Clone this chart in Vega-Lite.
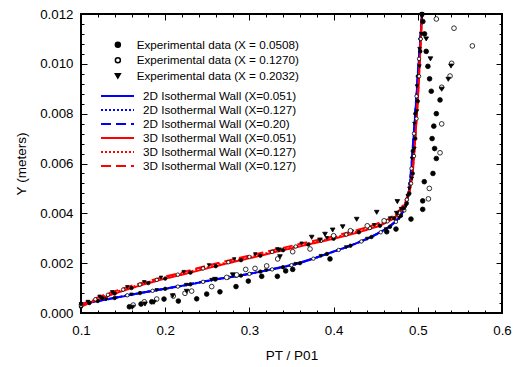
{
  "$schema": "https://vega.github.io/schema/vega-lite/v6.json",
  "width": 421,
  "height": 299,
  "autosize": {"type": "none"},
  "padding": {"left": 81, "top": 14, "right": 13, "bottom": 54},
  "config": {
    "font": "Liberation Sans",
    "view": {"stroke": "black", "strokeWidth": 2},
    "axis": {"grid": false, "domain": false, "ticks": true, "tickColor": "black", "tickWidth": 1, "labelColor": "black", "titleColor": "black", "labelFontSize": 13.3, "titleFontSize": 13.5, "titleFontWeight": "normal", "labelFont": "Liberation Sans", "titleFont": "Liberation Sans", "labelFlush": false, "labelOverlap": false},
    "legend": {"labelFont": "Liberation Sans", "labelFontSize": 11.7, "labelColor": "black", "labelLimit": 300}
  },
  "datasets": {
    "lines": [
      {"series": "b1", "x": 0.100, "y": 0.00035},
      {"series": "b1", "x": 0.120, "y": 0.00048},
      {"series": "b1", "x": 0.140, "y": 0.00060},
      {"series": "b1", "x": 0.170, "y": 0.00080},
      {"series": "b1", "x": 0.200, "y": 0.00097},
      {"series": "b1", "x": 0.230, "y": 0.00115},
      {"series": "b1", "x": 0.260, "y": 0.00135},
      {"series": "b1", "x": 0.290, "y": 0.00150},
      {"series": "b1", "x": 0.313, "y": 0.00166},
      {"series": "b1", "x": 0.340, "y": 0.00184},
      {"series": "b1", "x": 0.360, "y": 0.00200},
      {"series": "b1", "x": 0.392, "y": 0.00237},
      {"series": "b1", "x": 0.420, "y": 0.00270},
      {"series": "b1", "x": 0.445, "y": 0.00305},
      {"series": "b1", "x": 0.467, "y": 0.00346},
      {"series": "b1", "x": 0.480, "y": 0.00390},
      {"series": "b1", "x": 0.487, "y": 0.00440},
      {"series": "b1", "x": 0.491, "y": 0.00520},
      {"series": "b1", "x": 0.494, "y": 0.00650},
      {"series": "b1", "x": 0.497, "y": 0.00800},
      {"series": "b1", "x": 0.500, "y": 0.00950},
      {"series": "b1", "x": 0.503, "y": 0.01100},
      {"series": "b1", "x": 0.505, "y": 0.01200},
      {"series": "b2", "x": 0.100, "y": 0.00035},
      {"series": "b2", "x": 0.110, "y": 0.00042},
      {"series": "b2", "x": 0.155, "y": 0.00071},
      {"series": "b2", "x": 0.185, "y": 0.00089},
      {"series": "b2", "x": 0.215, "y": 0.00106},
      {"series": "b2", "x": 0.245, "y": 0.00125},
      {"series": "b2", "x": 0.275, "y": 0.00143},
      {"series": "b2", "x": 0.300, "y": 0.00157},
      {"series": "b2", "x": 0.327, "y": 0.00175},
      {"series": "b2", "x": 0.350, "y": 0.00192},
      {"series": "b2", "x": 0.376, "y": 0.00218},
      {"series": "b2", "x": 0.406, "y": 0.00253},
      {"series": "b2", "x": 0.433, "y": 0.00287},
      {"series": "b2", "x": 0.456, "y": 0.00324},
      {"series": "b2", "x": 0.474, "y": 0.00366},
      {"series": "b2", "x": 0.484, "y": 0.00412},
      {"series": "b2", "x": 0.489, "y": 0.00475},
      {"series": "b2", "x": 0.4925, "y": 0.00580},
      {"series": "b2", "x": 0.4955, "y": 0.00720},
      {"series": "b2", "x": 0.4985, "y": 0.00870},
      {"series": "b2", "x": 0.5015, "y": 0.01020},
      {"series": "b2", "x": 0.505, "y": 0.01200},
      {"series": "b3", "x": 0.100, "y": 0.00036},
      {"series": "b3", "x": 0.130, "y": 0.00055},
      {"series": "b3", "x": 0.160, "y": 0.00074},
      {"series": "b3", "x": 0.190, "y": 0.00092},
      {"series": "b3", "x": 0.225, "y": 0.00113},
      {"series": "b3", "x": 0.255, "y": 0.00133},
      {"series": "b3", "x": 0.285, "y": 0.00148},
      {"series": "b3", "x": 0.320, "y": 0.00171},
      {"series": "b3", "x": 0.355, "y": 0.00197},
      {"series": "b3", "x": 0.385, "y": 0.00229},
      {"series": "b3", "x": 0.415, "y": 0.00264},
      {"series": "b3", "x": 0.440, "y": 0.00298},
      {"series": "b3", "x": 0.462, "y": 0.00336},
      {"series": "b3", "x": 0.478, "y": 0.00381},
      {"series": "b3", "x": 0.486, "y": 0.00430},
      {"series": "b3", "x": 0.490, "y": 0.00500},
      {"series": "b3", "x": 0.493, "y": 0.00620},
      {"series": "b3", "x": 0.496, "y": 0.00760},
      {"series": "b3", "x": 0.499, "y": 0.00910},
      {"series": "b3", "x": 0.502, "y": 0.01060},
      {"series": "b3", "x": 0.505, "y": 0.01200},
      {"series": "r1", "x": 0.100, "y": 0.00025},
      {"series": "r1", "x": 0.110, "y": 0.00040},
      {"series": "r1", "x": 0.125, "y": 0.00060},
      {"series": "r1", "x": 0.140, "y": 0.00078},
      {"series": "r1", "x": 0.160, "y": 0.00100},
      {"series": "r1", "x": 0.180, "y": 0.00120},
      {"series": "r1", "x": 0.200, "y": 0.00138},
      {"series": "r1", "x": 0.230, "y": 0.00162},
      {"series": "r1", "x": 0.260, "y": 0.00188},
      {"series": "r1", "x": 0.290, "y": 0.00212},
      {"series": "r1", "x": 0.313, "y": 0.00230},
      {"series": "r1", "x": 0.340, "y": 0.00252},
      {"series": "r1", "x": 0.370, "y": 0.00275},
      {"series": "r1", "x": 0.400, "y": 0.00298},
      {"series": "r1", "x": 0.430, "y": 0.00324},
      {"series": "r1", "x": 0.455, "y": 0.00350},
      {"series": "r1", "x": 0.472, "y": 0.00380},
      {"series": "r1", "x": 0.483, "y": 0.00420},
      {"series": "r1", "x": 0.490, "y": 0.00480},
      {"series": "r1", "x": 0.494, "y": 0.00560},
      {"series": "r1", "x": 0.497, "y": 0.00700},
      {"series": "r1", "x": 0.500, "y": 0.00850},
      {"series": "r1", "x": 0.503, "y": 0.01050},
      {"series": "r1", "x": 0.505, "y": 0.01200},
      {"series": "r2", "x": 0.100, "y": 0.00029},
      {"series": "r2", "x": 0.117, "y": 0.00055},
      {"series": "r2", "x": 0.132, "y": 0.00073},
      {"series": "r2", "x": 0.150, "y": 0.00094},
      {"series": "r2", "x": 0.170, "y": 0.00114},
      {"series": "r2", "x": 0.190, "y": 0.00133},
      {"series": "r2", "x": 0.215, "y": 0.00154},
      {"series": "r2", "x": 0.245, "y": 0.00179},
      {"series": "r2", "x": 0.275, "y": 0.00204},
      {"series": "r2", "x": 0.300, "y": 0.00225},
      {"series": "r2", "x": 0.327, "y": 0.00245},
      {"series": "r2", "x": 0.355, "y": 0.00267},
      {"series": "r2", "x": 0.385, "y": 0.00290},
      {"series": "r2", "x": 0.415, "y": 0.00315},
      {"series": "r2", "x": 0.443, "y": 0.00341},
      {"series": "r2", "x": 0.464, "y": 0.00368},
      {"series": "r2", "x": 0.478, "y": 0.00403},
      {"series": "r2", "x": 0.487, "y": 0.00455},
      {"series": "r2", "x": 0.492, "y": 0.00520},
      {"series": "r2", "x": 0.4955, "y": 0.00630},
      {"series": "r2", "x": 0.4985, "y": 0.00780},
      {"series": "r2", "x": 0.5015, "y": 0.00950},
      {"series": "r2", "x": 0.5035, "y": 0.01100},
      {"series": "r2", "x": 0.505, "y": 0.01200},
      {"series": "r3", "x": 0.100, "y": 0.00033},
      {"series": "r3", "x": 0.108, "y": 0.00045},
      {"series": "r3", "x": 0.122, "y": 0.00066},
      {"series": "r3", "x": 0.137, "y": 0.00084},
      {"series": "r3", "x": 0.155, "y": 0.00104},
      {"series": "r3", "x": 0.175, "y": 0.00124},
      {"series": "r3", "x": 0.195, "y": 0.00142},
      {"series": "r3", "x": 0.222, "y": 0.00165},
      {"series": "r3", "x": 0.252, "y": 0.00192},
      {"series": "r3", "x": 0.282, "y": 0.00216},
      {"series": "r3", "x": 0.307, "y": 0.00236},
      {"series": "r3", "x": 0.333, "y": 0.00256},
      {"series": "r3", "x": 0.362, "y": 0.00279},
      {"series": "r3", "x": 0.392, "y": 0.00301},
      {"series": "r3", "x": 0.422, "y": 0.00327},
      {"series": "r3", "x": 0.448, "y": 0.00353},
      {"series": "r3", "x": 0.467, "y": 0.00380},
      {"series": "r3", "x": 0.480, "y": 0.00418},
      {"series": "r3", "x": 0.488, "y": 0.00470},
      {"series": "r3", "x": 0.493, "y": 0.00540},
      {"series": "r3", "x": 0.496, "y": 0.00660},
      {"series": "r3", "x": 0.499, "y": 0.00810},
      {"series": "r3", "x": 0.502, "y": 0.00990},
      {"series": "r3", "x": 0.504, "y": 0.01120},
      {"series": "r3", "x": 0.505, "y": 0.01200}
    ],
    "exp": [
      {"series": "e1", "x": 0.1574, "y": 0.00025},
      {"series": "e1", "x": 0.1713, "y": 0.00036},
      {"series": "e1", "x": 0.184, "y": 0.00045},
      {"series": "e1", "x": 0.1986, "y": 0.00056},
      {"series": "e1", "x": 0.2156, "y": 0.00048},
      {"series": "e1", "x": 0.2374, "y": 0.00057},
      {"series": "e1", "x": 0.2493, "y": 0.00076},
      {"series": "e1", "x": 0.265, "y": 0.00085},
      {"series": "e1", "x": 0.2841, "y": 0.00106},
      {"series": "e1", "x": 0.2987, "y": 0.00128},
      {"series": "e1", "x": 0.3146, "y": 0.00147},
      {"series": "e1", "x": 0.3332, "y": 0.00147},
      {"series": "e1", "x": 0.3431, "y": 0.00169},
      {"series": "e1", "x": 0.3514, "y": 0.00175},
      {"series": "e1", "x": 0.3957, "y": 0.00217},
      {"series": "e1", "x": 0.4631, "y": 0.00326},
      {"series": "e1", "x": 0.4741, "y": 0.00337},
      {"series": "e1", "x": 0.4919, "y": 0.00377},
      {"series": "e1", "x": 0.5058, "y": 0.00416},
      {"series": "e1", "x": 0.5058, "y": 0.0045},
      {"series": "e1", "x": 0.5077, "y": 0.00527},
      {"series": "e1", "x": 0.518, "y": 0.0056},
      {"series": "e1", "x": 0.522, "y": 0.0062},
      {"series": "e1", "x": 0.520, "y": 0.0066},
      {"series": "e1", "x": 0.517, "y": 0.0070},
      {"series": "e1", "x": 0.519, "y": 0.0075},
      {"series": "e1", "x": 0.522, "y": 0.0080},
      {"series": "e1", "x": 0.5264, "y": 0.00855},
      {"series": "e1", "x": 0.516, "y": 0.0089},
      {"series": "e1", "x": 0.514, "y": 0.0094},
      {"series": "e1", "x": 0.512, "y": 0.0099},
      {"series": "e1", "x": 0.510, "y": 0.0105},
      {"series": "e1", "x": 0.508, "y": 0.0112},
      {"series": "e1", "x": 0.506, "y": 0.0117},
      {"series": "e2", "x": 0.162, "y": 0.00032},
      {"series": "e2", "x": 0.1752, "y": 0.00045},
      {"series": "e2", "x": 0.1899, "y": 0.00056},
      {"series": "e2", "x": 0.2096, "y": 0.00068},
      {"series": "e2", "x": 0.2235, "y": 0.00079},
      {"series": "e2", "x": 0.2314, "y": 0.00088},
      {"series": "e2", "x": 0.2552, "y": 0.00106},
      {"series": "e2", "x": 0.273, "y": 0.00143},
      {"series": "e2", "x": 0.2849, "y": 0.00153},
      {"series": "e2", "x": 0.2956, "y": 0.00175},
      {"series": "e2", "x": 0.3067, "y": 0.00179},
      {"series": "e2", "x": 0.3205, "y": 0.00189},
      {"series": "e2", "x": 0.3336, "y": 0.00217},
      {"series": "e2", "x": 0.3514, "y": 0.00246},
      {"series": "e2", "x": 0.372, "y": 0.00257},
      {"series": "e2", "x": 0.400, "y": 0.0031},
      {"series": "e2", "x": 0.420, "y": 0.0033},
      {"series": "e2", "x": 0.440, "y": 0.0035},
      {"series": "e2", "x": 0.460, "y": 0.0037},
      {"series": "e2", "x": 0.5126, "y": 0.00458},
      {"series": "e2", "x": 0.5137, "y": 0.0050},
      {"series": "e2", "x": 0.5264, "y": 0.00643},
      {"series": "e2", "x": 0.5284, "y": 0.00759},
      {"series": "e2", "x": 0.5284, "y": 0.00906},
      {"series": "e2", "x": 0.5383, "y": 0.00951},
      {"series": "e2", "x": 0.5402, "y": 0.01002},
      {"series": "e2", "x": 0.5648, "y": 0.01072},
      {"series": "e2", "x": 0.543, "y": 0.01143},
      {"series": "e2", "x": 0.522, "y": 0.0118},
      {"series": "e3", "x": 0.1609, "y": 0.00023},
      {"series": "e3", "x": 0.176, "y": 0.00036},
      {"series": "e3", "x": 0.1867, "y": 0.00043},
      {"series": "e3", "x": 0.2089, "y": 0.00069},
      {"series": "e3", "x": 0.2255, "y": 0.00087},
      {"series": "e3", "x": 0.2591, "y": 0.00135},
      {"series": "e3", "x": 0.2802, "y": 0.00153},
      {"series": "e3", "x": 0.3352, "y": 0.00253},
      {"series": "e3", "x": 0.3363, "y": 0.00226},
      {"series": "e3", "x": 0.374, "y": 0.00304},
      {"series": "e3", "x": 0.3838, "y": 0.00293},
      {"series": "e3", "x": 0.3898, "y": 0.00316},
      {"series": "e3", "x": 0.3989, "y": 0.00333},
      {"series": "e3", "x": 0.4108, "y": 0.00346},
      {"series": "e3", "x": 0.4274, "y": 0.00376},
      {"series": "e3", "x": 0.4512, "y": 0.00404},
      {"series": "e3", "x": 0.4757, "y": 0.00447},
      {"series": "e3", "x": 0.475, "y": 0.0040},
      {"series": "e3", "x": 0.5284, "y": 0.00898},
      {"series": "e3", "x": 0.5362, "y": 0.00938},
      {"series": "e3", "x": 0.5394, "y": 0.00991},
      {"series": "e3", "x": 0.515, "y": 0.0102},
      {"series": "e3", "x": 0.510, "y": 0.0110},
      {"series": "e3", "x": 0.505, "y": 0.0119}
    ]
  },
  "resolve": {"axis": {"x": "independent", "y": "independent"}},
  "layer": [
    {
      "data": {"name": "lines"},
      "transform": [{"filter": {"field": "series", "oneOf": ["b1", "b2", "b3"]}}],
      "mark": {"type": "line", "strokeWidth": 2},
      "encoding": {
        "x": {"field": "x", "type": "quantitative", "scale": {"domain": [0.1, 0.6], "nice": false, "zero": false},
          "axis": {"orient": "bottom", "title": "PT / P01", "values": [0.1, 0.2, 0.3, 0.4, 0.5, 0.6], "format": ".1f", "offset": -6, "tickSize": 6, "labelPadding": 10, "titlePadding": 12}},
        "y": {"field": "y", "type": "quantitative", "scale": {"domain": [0, 0.012], "nice": false},
          "axis": {"orient": "left", "title": "Y (meters)", "values": [0, 0.002, 0.004, 0.006, 0.008, 0.01, 0.012], "format": ".3f", "offset": -6, "tickSize": 6, "labelPadding": 8, "titlePadding": 11}},
        "color": {"field": "series", "type": "nominal",
          "scale": {"domain": ["b1","b2","b3","r1","r2","r3"], "range": ["#0000ff","#0000ff","#0000ff","#ff0000","#ff0000","#ff0000"]},
          "legend": {"title": null, "orient": "none", "legendX": 30, "legendY": 75.5, "symbolType": "M-3,0H3", "symbolSize": 121, "symbolStrokeWidth": 2, "labelOffset": 19, "rowPadding": 0,
            "labelExpr": "datum.value=='b1' ? '2D Isothermal Wall (X=0.051)' : datum.value=='b2' ? '2D Isothermal Wall (X=0.127)' : datum.value=='b3' ? '2D Isothermal Wall (X=0.20)' : datum.value=='r1' ? '3D Isothermal Wall (X=0.051)' : '3D Isothermal Wall (X=0.127)'"}},
        "strokeDash": {"field": "series", "type": "nominal",
          "scale": {"domain": ["b1","b2","b3","r1","r2","r3"], "range": [[1,0],[2,2],[10,5],[1,0],[2,2],[10,5]]},
          "legend": {"title": null, "orient": "none", "legendX": 30, "legendY": 75.5, "symbolType": "M-3,0H3", "symbolSize": 121, "symbolStrokeWidth": 2, "labelOffset": 19, "rowPadding": 0,
            "labelExpr": "datum.value=='b1' ? '2D Isothermal Wall (X=0.051)' : datum.value=='b2' ? '2D Isothermal Wall (X=0.127)' : datum.value=='b3' ? '2D Isothermal Wall (X=0.20)' : datum.value=='r1' ? '3D Isothermal Wall (X=0.051)' : '3D Isothermal Wall (X=0.127)'"}}
      }
    },
    {
      "data": {"name": "lines"},
      "transform": [{"filter": {"field": "series", "oneOf": ["r1", "r2", "r3"]}}],
      "mark": {"type": "line", "strokeWidth": 2},
      "encoding": {
        "x": {"field": "x", "type": "quantitative",
          "axis": {"orient": "top", "title": null, "labels": false, "values": [0.1, 0.2, 0.3, 0.4, 0.5, 0.6], "tickSize": -6}},
        "y": {"field": "y", "type": "quantitative",
          "axis": {"orient": "right", "title": null, "labels": false, "values": [0, 0.002, 0.004, 0.006, 0.008, 0.01, 0.012], "tickSize": -6}},
        "color": {"field": "series", "type": "nominal",
          "legend": {"title": null, "orient": "none", "legendX": 30, "legendY": 75.5, "symbolType": "M-3,0H3", "symbolSize": 121, "symbolStrokeWidth": 2, "labelOffset": 19, "rowPadding": 0,
            "labelExpr": "datum.value=='b1' ? '2D Isothermal Wall (X=0.051)' : datum.value=='b2' ? '2D Isothermal Wall (X=0.127)' : datum.value=='b3' ? '2D Isothermal Wall (X=0.20)' : datum.value=='r1' ? '3D Isothermal Wall (X=0.051)' : '3D Isothermal Wall (X=0.127)'"}},
        "strokeDash": {"field": "series", "type": "nominal",
          "legend": {"title": null, "orient": "none", "legendX": 30, "legendY": 75.5, "symbolType": "M-3,0H3", "symbolSize": 121, "symbolStrokeWidth": 2, "labelOffset": 19, "rowPadding": 0,
            "labelExpr": "datum.value=='b1' ? '2D Isothermal Wall (X=0.051)' : datum.value=='b2' ? '2D Isothermal Wall (X=0.127)' : datum.value=='b3' ? '2D Isothermal Wall (X=0.20)' : datum.value=='r1' ? '3D Isothermal Wall (X=0.051)' : '3D Isothermal Wall (X=0.127)'"}}
      }
    },
    {
      "data": {"name": "lines"},
      "mark": {"type": "point", "filled": true, "stroke": "black", "strokeWidth": 0.8, "size": 12, "opacity": 1},
      "encoding": {
        "x": {"field": "x", "type": "quantitative",
          "axis": {"orient": "bottom", "title": null, "labels": false, "tickSize": -3,
            "values": [0.12,0.14,0.16,0.18,0.22,0.24,0.26,0.28,0.32,0.34,0.36,0.38,0.42,0.44,0.46,0.48,0.52,0.54,0.56,0.58]}},
        "y": {"field": "y", "type": "quantitative",
          "axis": {"orient": "left", "title": null, "labels": false, "tickSize": -3,
            "values": [0.0004,0.0008,0.0012,0.0016,0.0024,0.0028,0.0032,0.0036,0.0044,0.0048,0.0052,0.0056,0.0064,0.0068,0.0072,0.0076,0.0084,0.0088,0.0092,0.0096,0.0104,0.0108,0.0112,0.0116]}},
        "shape": {"field": "series", "type": "nominal",
          "scale": {"domain": ["b1","b2","b3","r1","r2","r3","e1","e2","e3"], "range": ["circle","circle","triangle-down","circle","circle","triangle-down","circle","circle","triangle-down"]},
          "legend": {"title": null, "orient": "none", "legendX": 31, "legendY": 25, "values": ["e1","e2","e3"], "symbolSize": 25, "labelOffset": 13, "rowPadding": 2.5,
            "labelExpr": "datum.value=='e1' ? 'Experimental data (X = 0.0508)' : datum.value=='e2' ? 'Experimental data (X = 0.1270)' : 'Experimental data (X = 0.2032)'"}},
        "fill": {"field": "series", "type": "nominal",
          "scale": {"domain": ["b1","b2","b3","r1","r2","r3","e1","e2","e3"], "range": ["black","white","black","black","white","black","black","white","black"]},
          "legend": {"title": null, "orient": "none", "legendX": 31, "legendY": 25, "values": ["e1","e2","e3"], "symbolSize": 25, "labelOffset": 13, "rowPadding": 2.5,
            "labelExpr": "datum.value=='e1' ? 'Experimental data (X = 0.0508)' : datum.value=='e2' ? 'Experimental data (X = 0.1270)' : 'Experimental data (X = 0.2032)'"}}
      }
    },
    {
      "data": {"name": "exp"},
      "mark": {"type": "point", "filled": true, "stroke": "black", "strokeWidth": 0.8, "size": 22, "opacity": 1},
      "encoding": {
        "x": {"field": "x", "type": "quantitative",
          "axis": {"orient": "top", "title": null, "labels": false, "tickSize": -3,
            "values": [0.12,0.14,0.16,0.18,0.22,0.24,0.26,0.28,0.32,0.34,0.36,0.38,0.42,0.44,0.46,0.48,0.52,0.54,0.56,0.58]}},
        "y": {"field": "y", "type": "quantitative",
          "axis": {"orient": "right", "title": null, "labels": false, "tickSize": -3,
            "values": [0.0004,0.0008,0.0012,0.0016,0.0024,0.0028,0.0032,0.0036,0.0044,0.0048,0.0052,0.0056,0.0064,0.0068,0.0072,0.0076,0.0084,0.0088,0.0092,0.0096,0.0104,0.0108,0.0112,0.0116]}},
        "shape": {"field": "series", "type": "nominal",
          "legend": {"title": null, "orient": "none", "legendX": 31, "legendY": 25, "values": ["e1","e2","e3"], "symbolSize": 25, "labelOffset": 13, "rowPadding": 2.5,
            "labelExpr": "datum.value=='e1' ? 'Experimental data (X = 0.0508)' : datum.value=='e2' ? 'Experimental data (X = 0.1270)' : 'Experimental data (X = 0.2032)'"}},
        "fill": {"field": "series", "type": "nominal",
          "legend": {"title": null, "orient": "none", "legendX": 31, "legendY": 25, "values": ["e1","e2","e3"], "symbolSize": 25, "labelOffset": 13, "rowPadding": 2.5,
            "labelExpr": "datum.value=='e1' ? 'Experimental data (X = 0.0508)' : datum.value=='e2' ? 'Experimental data (X = 0.1270)' : 'Experimental data (X = 0.2032)'"}}
      }
    }
  ]
}
